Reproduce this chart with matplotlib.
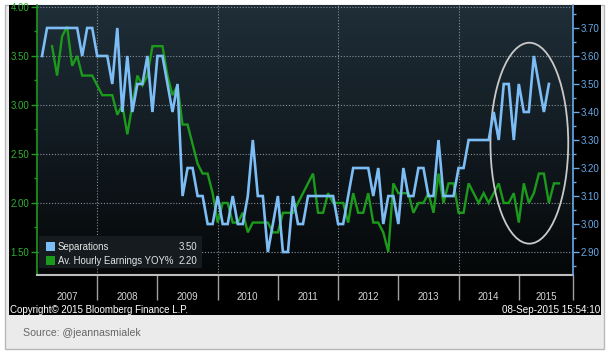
import numpy as np
import matplotlib
matplotlib.use("Agg")
import matplotlib.pyplot as plt
from matplotlib.patches import Rectangle, Ellipse
from matplotlib.colors import LinearSegmentedColormap
from matplotlib.ticker import MultipleLocator, FixedLocator, NullFormatter, FixedFormatter

plt.rcParams['font.family'] = ['Liberation Sans', 'DejaVu Sans']

# ---------------- data (monthly, index 0 = Jan 2007) ----------------
sep_start = 0          # Jan 2007
separations = [3.6, 3.7, 3.7, 3.7, 3.7, 3.7, 3.7, 3.7, 3.6, 3.7,
               3.7, 3.6, 3.6, 3.6, 3.5, 3.7, 3.4, 3.6, 3.4, 3.5,
               3.5, 3.6, 3.4, 3.6, 3.6, 3.5, 3.4, 3.5, 3.1, 3.2,
               3.2, 3.1, 3.1, 3.0, 3.0, 3.1, 3.0, 3.0, 3.1, 3.0,
               3.0, 3.1, 3.3, 3.1, 3.1, 2.9, 3.0, 3.1, 2.9, 2.9,
               3.1, 3.0, 3.0, 3.1, 3.1, 3.1, 3.1, 3.1, 3.1, 3.0,
               3.0, 3.1, 3.2, 3.2, 3.2, 3.2, 3.1, 3.2, 3.0, 3.1,
               3.1, 3.0, 3.2, 3.1, 3.1, 3.2, 3.2, 3.1, 3.1, 3.3,
               3.1, 3.1, 3.1, 3.2, 3.2, 3.3, 3.3, 3.3, 3.3, 3.3,
               3.4, 3.3, 3.5, 3.5, 3.3, 3.5, 3.4, 3.4, 3.6, 3.5,
               3.4, 3.5]

earn_start = 2         # Mar 2007
earnings = [3.6, 3.3, 3.7, 3.8, 3.4, 3.5, 3.3, 3.3, 3.3, 3.2,
            3.1, 3.1, 3.1, 2.9, 3.0, 2.7, 3.0, 3.3, 3.2, 3.3,
            3.6, 3.6, 3.6, 3.3, 3.1, 3.2, 2.8, 2.8, 2.6, 2.4,
            2.3, 2.3, 2.1, 1.8, 2.0, 2.0, 1.8, 1.8, 1.9, 1.7,
            1.8, 1.8, 1.8, 1.8, 1.7, 1.7, 1.9, 1.9, 1.9, 2.0,
            2.1, 2.2, 2.3, 1.9, 1.9, 2.1, 2.0, 2.0, 2.0, 1.8,
            2.1, 1.9, 1.9, 2.1, 1.8, 1.8, 1.7, 1.5, 2.2, 2.1,
            2.1, 2.1, 1.9, 2.0, 2.0, 2.1, 1.9, 2.3, 2.0, 2.2,
            2.2, 1.9, 1.9, 2.2, 2.1, 2.0, 2.1, 2.0, 2.1, 2.2,
            2.0, 2.0, 2.1, 1.8, 2.2, 2.0, 2.1, 2.3, 2.3, 2.0,
            2.2, 2.2]

years = [2007, 2008, 2009, 2010, 2011, 2012, 2013, 2014, 2015]
grid_years = [2008, 2010, 2012, 2014]
left_ticks = [1.50, 2.00, 2.50, 3.00, 3.50, 4.00]
right_ticks = [2.90, 3.00, 3.10, 3.20, 3.30, 3.40, 3.50, 3.60, 3.70]
sep_label = "Separations"
earn_label = "Av. Hourly Earnings YOY%"
copyright_txt = "Copyright\u00a9 2015 Bloomberg Finance L.P."
stamp_txt = "08-Sep-2015 15:54:10"
source_txt = "Source: @jeannasmialek"

# highlight ellipse (data units: month index / left axis value)
ell_center = (97.1, 2.61)
ell_size = (15.5, 2.05)

# ---------------- figure ----------------
W, H = 608, 355
fig = plt.figure(figsize=(W / 100, H / 100), dpi=100, facecolor='white')

def frect(x0, y0, x1, y1):
    return [x0 / W, 1 - y1 / H, (x1 - x0) / W, (y1 - y0) / H]

fig.patches.append(Rectangle((4.5 / W, 1 - 348.5 / H), 599 / W, 344 / H,
                             transform=fig.transFigure, facecolor='#ebebeb',
                             edgecolor='#b8b8b8', lw=1.0, zorder=-10))
fig.patches.append(Rectangle((9 / W, 1 - 315 / H), 592 / W, 310 / H,
                             transform=fig.transFigure, facecolor='black',
                             edgecolor='none', zorder=-9))

rect = frect(37, 5, 573, 275)
bg = fig.add_axes(rect, zorder=0)
cmap = LinearSegmentedColormap.from_list('bg', ['#1f2e38', '#121b21', '#050708'])
bg.imshow(np.linspace(0, 1, 256)[:, None], aspect='auto', cmap=cmap,
          extent=[0, 1, 0, 1])
bg.axis('off')

ax = fig.add_axes(rect, zorder=1)
ax.set_facecolor('none')
ax2 = ax.twinx()

xmin, xmax = -1, 105.8
x_sep = np.arange(len(separations)) + sep_start
x_earn = np.arange(len(earnings)) + earn_start

green = '#1c9a1c'
green_lbl = '#2fb02f'
blue = '#7dbdf5'
blue_lbl = '#6aaae8'

ax.plot(x_earn, earnings, color=green, lw=1.7, solid_joinstyle='miter', zorder=3)
ax2.plot(x_sep, separations, color=blue, lw=1.9, solid_joinstyle='miter', zorder=3)

ax.set_xlim(xmin, xmax)
ax.set_ylim(1.265, 4.02)
ax2.set_ylim(2.818, 3.782)

# grid
gstyle = dict(color='#84919a', lw=0.8, ls=(0, (1, 1.6)), zorder=1)
for v in left_ticks:
    ax.axhline(v, **gstyle)
for y in grid_years:
    ax.axvline((y - 2007) * 12 - 1, **gstyle)

# x axis: year separators and centred labels
bounds = [(y - 2007) * 12 - 1 for y in years[1:]] + [xmax]
centers = [((y - 2007) * 12 - 1 + min((y - 2006) * 12 - 1, xmax)) / 2 for y in years]
ax.xaxis.set_major_locator(FixedLocator(bounds))
ax.xaxis.set_major_formatter(NullFormatter())
ax.xaxis.set_minor_locator(FixedLocator(centers))
ax.xaxis.set_minor_formatter(FixedFormatter([str(y) for y in years]))
ax.tick_params(axis='x', which='major', length=18, width=1.0, color='#a0a0a0', direction='out')
ax.tick_params(axis='x', which='minor', length=0, pad=12, labelsize=7, labelcolor='#d6d6d6')

# left axis
ax.yaxis.set_major_locator(FixedLocator(left_ticks))
ax.yaxis.set_minor_locator(MultipleLocator(0.25))
ax.yaxis.set_major_formatter(plt.FuncFormatter(lambda v, p: f"{v:.2f}"))
ax.tick_params(axis='y', which='major', length=4, width=1.0, color=green, labelcolor=green_lbl,
               labelsize=7, pad=1.5)
ax.tick_params(axis='y', which='minor', length=2.5, width=1.0, color=green)

# right axis
ax2.yaxis.set_major_locator(FixedLocator(right_ticks))
ax2.yaxis.set_minor_locator(MultipleLocator(0.05))
ax2.yaxis.set_major_formatter(plt.FuncFormatter(lambda v, p: f"{v:.2f}"))
ax2.tick_params(axis='y', which='major', length=4, width=1.0, color=blue_lbl, labelcolor=blue_lbl,
                labelsize=7, pad=1.5)
ax2.tick_params(axis='y', which='minor', length=2.5, width=1.0, color=blue_lbl)

for s in ['top', 'right']:
    ax.spines[s].set_visible(False)
ax.spines['left'].set_color(green)
ax.spines['left'].set_linewidth(1.2)
ax.spines['bottom'].set_color('#bdbdbd')
ax.spines['bottom'].set_linewidth(1.5)
for s in ['top', 'left', 'bottom']:
    ax2.spines[s].set_visible(False)
ax2.spines['right'].set_color(blue_lbl)
ax2.spines['right'].set_linewidth(1.2)

# highlight ellipse
ax.add_patch(Ellipse(ell_center, ell_size[0], ell_size[1], facecolor='none',
                     edgecolor='#c9c9c9', lw=1.3, zorder=6))

# legend (manual)
def xa(x):
    return (x - 37) / 536

def ya(y):
    return (275 - y) / 270

ax2.add_patch(Rectangle((xa(39), ya(268)), xa(202) - xa(39), ya(236) - ya(268),
                        transform=ax2.transAxes, facecolor='#151b1f', edgecolor='none', zorder=7))
ax2.add_patch(Rectangle((xa(45.5), ya(251.5)), xa(55) - xa(45.5), ya(242) - ya(251.5),
                        transform=ax2.transAxes, facecolor=blue, edgecolor='none', zorder=8))
ax2.add_patch(Rectangle((xa(45.5), ya(265)), xa(55) - xa(45.5), ya(255.5) - ya(265),
                        transform=ax2.transAxes, facecolor=green, edgecolor='none', zorder=8))
tk = dict(transform=ax2.transAxes, color='#e6e6e6', fontsize=6.9, va='center', zorder=9)
ax2.text(xa(58), ya(247), sep_label, ha='left', **tk)
ax2.text(xa(197), ya(247), f"{separations[-1]:.2f}", ha='right', **tk)
ax2.text(xa(58), ya(260.5), earn_label, ha='left', **tk)
ax2.text(xa(197), ya(260.5), f"{earnings[-1]:.2f}", ha='right', **tk)

# footer texts
fig.text(10 / W, 1 - 310 / H, copyright_txt, color='white', fontsize=7, va='center', ha='left')
fig.text(600 / W, 1 - 310 / H, stamp_txt, color='white', fontsize=7.1, va='center', ha='right')
fig.text(23 / W, 1 - 333 / H, source_txt, color='#666666', fontsize=7.6, va='center', ha='left')

fig.savefig('out.png', dpi=100, facecolor='white')
